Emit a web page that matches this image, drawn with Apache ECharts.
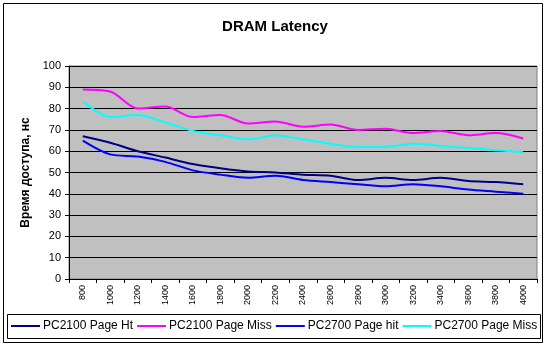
<!DOCTYPE html>
<html><head><meta charset="utf-8">
<script src="https://cdn.jsdelivr.net/npm/echarts@6/dist/echarts.min.js"></script>
<style>html,body{margin:0;padding:0;background:#fff}#c{width:550px;height:345px}</style>
</head><body><div id="c"></div>
<script>
var categories = ['800','1000','1200','1400','1600','1800','2000','2200','2400','2600','2800','3000','3200','3400','3600','3800','4000'];
var pc2100Hit  = [67, 64, 60, 57, 54, 52, 50.5, 50, 49, 48.5, 46.5, 47.5, 46.5, 47.5, 46, 45.5, 44.5];
var pc2100Miss = [89, 88, 80, 81, 76, 77, 73, 74, 71.5, 72.5, 70, 70.5, 68.5, 69.5, 67.5, 68.5, 66];
var pc2700Hit  = [65, 58.5, 57.5, 55, 51, 49, 47.5, 48.5, 46.5, 45.5, 44.5, 43.5, 44.5, 43.5, 42, 41, 40];
var pc2700Miss = [83.5, 76, 77, 73.5, 69.5, 67.5, 65.5, 67.5, 65.5, 63.5, 62, 62, 63.5, 62.5, 61.5, 60.5, 59.5];
var seriesNames = ['PC2100 Page Ht','PC2100 Page Miss','PC2700 Page hit','PC2700 Page Miss'];
var seriesColors = ['#000080','#FF00FF','#0000FF','#00FFFF'];
var seriesData = [pc2100Hit, pc2100Miss, pc2700Hit, pc2700Miss];

var chart = echarts.init(document.getElementById('c'), null, {renderer:'canvas'});
var font = 'Liberation Sans, Arial, sans-serif';
chart.setOption({
  animation:false,
  backgroundColor:'#fff',
  textStyle:{fontFamily:font},
  title:{text:'DRAM Latency', left:'center', top:14,
    textStyle:{fontFamily:font, fontSize:15, fontWeight:'bold', color:'#000'}},
  graphic:[
    {type:'rect', shape:{x:3.5,y:3.5,width:539,height:339}, style:{fill:'none', stroke:'#000', lineWidth:1}, silent:true, z:-1},
    {type:'rect', shape:{x:7.5,y:314.5,width:533,height:24}, style:{fill:'none', stroke:'#000', lineWidth:1}, silent:true, z:-1}
  ],
  grid:{left:69, right:13, top:66, bottom:66, show:true, backgroundColor:'#C0C0C0', borderColor:'#808080', borderWidth:1},
  legend:{
    left:11, top:315, padding:[5,0,5,0], itemGap:4,
    borderWidth:0,
    icon:'rect', itemWidth:29, itemHeight:2,
    textStyle:{fontFamily:font, fontSize:12, color:'#000', padding:[0,0,0,-2]},
    data:seriesNames
  },
  xAxis:{type:'category', data:categories, boundaryGap:true,
    axisLine:{lineStyle:{color:'#000'}},
    axisTick:{show:true, inside:false, length:4, alignWithLabel:false, lineStyle:{color:'#000'}},
    axisLabel:{rotate:90, fontSize:9, color:'#000', margin:6, fontFamily:font, interval:0},
    splitLine:{show:false}},
  yAxis:{type:'value', min:0, max:100, interval:10,
    name:'Время доступа, нс', nameLocation:'middle', nameGap:34,
    nameTextStyle:{fontFamily:font, fontSize:12, fontWeight:'bold', color:'#000'},
    axisLine:{show:true, lineStyle:{color:'#000'}},
    axisTick:{show:true, length:4, lineStyle:{color:'#000'}},
    axisLabel:{fontSize:11, color:'#000', margin:8, fontFamily:font},
    splitLine:{show:true, lineStyle:{color:'#000', width:1}}},
  series:seriesData.map(function(d,i){
    return {name:seriesNames[i], type:'line', data:d, smooth:0.3, showSymbol:false, symbol:'none',
      lineStyle:{color:seriesColors[i], width:2}, itemStyle:{color:seriesColors[i]}};
  })
});
</script></body></html>
